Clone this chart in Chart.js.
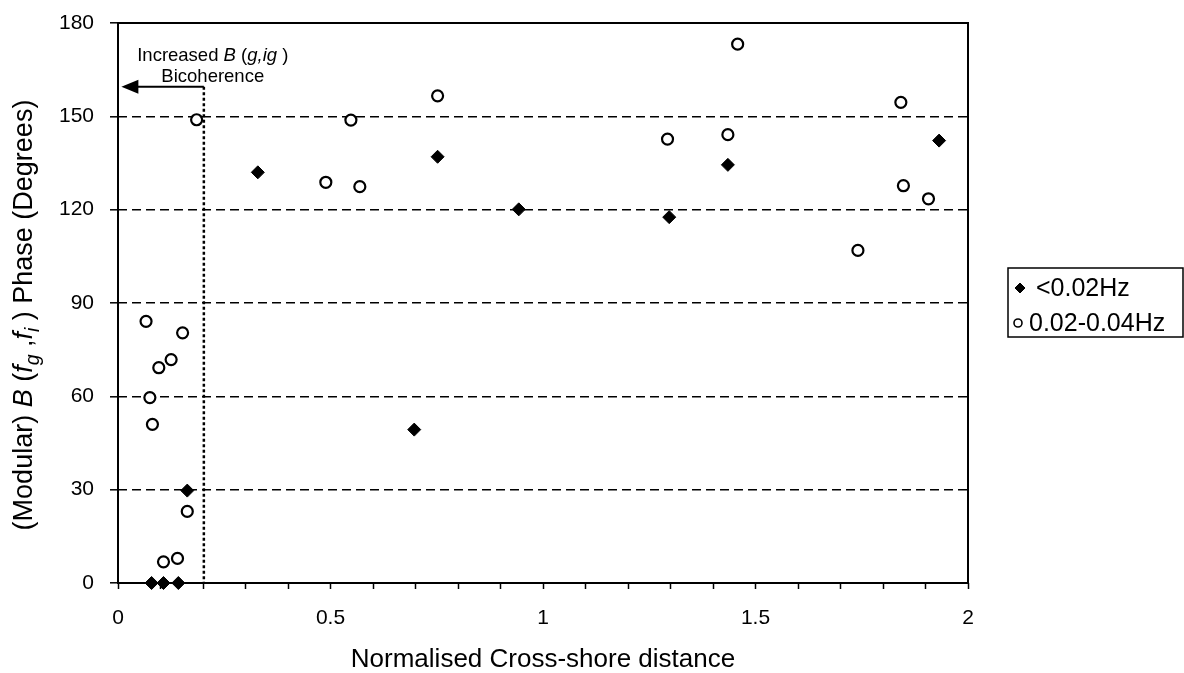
<!DOCTYPE html>
<html>
<head>
<meta charset="utf-8">
<title>Bispectral phase vs cross-shore distance</title>
<script src="https://cdn.jsdelivr.net/npm/chart.js@4.4.0/dist/chart.umd.min.js"></script>
<style>
  html, body { margin: 0; padding: 0; background: #fff; }
  #wrap { width: 1184px; height: 673px; }
</style>
</head>
<body>
<div id="wrap"><canvas id="phaseChart"></canvas></div>
<script>
// <0.02Hz (filled diamonds)
const lowX = [0.079, 0.107, 0.142, 0.163, 0.329, 0.697, 0.752, 0.943, 1.297, 1.435, 1.932];
const lowY = [0, 0, 0, 29.7, 132, 49.3, 137, 120.1, 117.6, 134.4, 142.2];

// 0.02-0.04Hz (open circles)
const midX = [0.066, 0.075, 0.081, 0.096, 0.107, 0.125, 0.140, 0.152, 0.163, 0.185,
              0.489, 0.548, 0.569, 0.752, 1.293, 1.435, 1.458, 1.741, 1.842, 1.848, 1.907];
const midY = [84.1, 59.6, 51.0, 69.2, 6.8, 71.8, 7.9, 80.4, 23.0, 148.9,
              128.8, 148.8, 127.4, 156.6, 142.7, 144.1, 173.2, 106.9, 154.5, 127.7, 123.5];

const seriesLabels = ['<0.02Hz', '0.02-0.04Hz'];
const xMajorTicks = [0, 0.5, 1, 1.5, 2];
const yTicks = [0, 30, 60, 90, 120, 150, 180];

// the "increased bicoherence" marker
const bicohX = 0.202;
const bicohY = 159.5;

const FONT = '"Liberation Sans", Arial, sans-serif';

function toPoints(xs, ys) {
  return xs.map((x, i) => ({ x: x, y: ys[i] }));
}

// draws text made of plain / italic / subscript pieces, centred on (x, y)
function drawRich(ctx, parts, x, y, size) {
  let total = 0;
  parts.forEach(p => {
    const s = p.sub ? size * 0.72 : size;
    ctx.font = (p.italic ? 'italic ' : '') + s + 'px ' + FONT;
    p.w = ctx.measureText(p.t).width;
    total += p.w;
  });
  let cx = x - total / 2;
  ctx.textAlign = 'left';
  ctx.textBaseline = 'alphabetic';
  parts.forEach(p => {
    const s = p.sub ? size * 0.72 : size;
    ctx.font = (p.italic ? 'italic ' : '') + s + 'px ' + FONT;
    ctx.fillText(p.t, cx, p.sub ? y + size * 0.25 : y);
    cx += p.w;
  });
}

const extras = {
  id: 'extras',
  beforeDatasetsDraw(chart) {
    const { ctx, chartArea: a, scales: { x, y } } = chart;
    ctx.save();
    ctx.strokeStyle = '#000';
    ctx.fillStyle = '#000';

    // plot frame
    ctx.lineWidth = 2;
    ctx.strokeRect(a.left, a.top, a.right - a.left, a.bottom - a.top);

    // dotted vertical line
    const px = x.getPixelForValue(bicohX);
    const py = y.getPixelForValue(bicohY);
    ctx.lineWidth = 2.5;
    ctx.setLineDash([3, 2.5]);
    ctx.beginPath();
    ctx.moveTo(px, py);
    ctx.lineTo(px, y.getPixelForValue(0));
    ctx.stroke();
    ctx.setLineDash([]);

    // arrow pointing to the shore
    const tip = x.getPixelForValue(0.008);
    ctx.lineWidth = 2;
    ctx.beginPath();
    ctx.moveTo(px, py);
    ctx.lineTo(tip + 14, py);
    ctx.stroke();
    ctx.beginPath();
    ctx.moveTo(tip, py);
    ctx.lineTo(tip + 17, py - 7);
    ctx.lineTo(tip + 17, py + 7);
    ctx.closePath();
    ctx.fill();

    // label
    const tx = x.getPixelForValue(0.223);
    drawRich(ctx, [
      { t: 'Increased ' }, { t: 'B', italic: true }, { t: ' (' },
      { t: 'g,ig', italic: true }, { t: ' )' }
    ], tx, py - 26, 18.5);
    drawRich(ctx, [{ t: 'Bicoherence' }], tx, py - 5, 18.5);
    ctx.restore();
  },
  afterDraw(chart) {
    const { ctx, chartArea: a } = chart;
    ctx.save();
    ctx.fillStyle = '#000';
    ctx.strokeStyle = '#000';

    // y axis title with italics and subscripts
    ctx.translate(12, 315);
    ctx.rotate(-Math.PI / 2);
    drawRich(ctx, [
      { t: '(Modular) ' }, { t: 'B', italic: true }, { t: ' (' },
      { t: 'f', italic: true }, { t: 'g', italic: true, sub: true }, { t: ' ,' },
      { t: 'f', italic: true }, { t: 'i', italic: true, sub: true }, { t: ' )' },
      { t: ' Phase (Degrees)' }
    ], 0, 20, 27);
    ctx.setTransform(1, 0, 0, 1, 0, 0);

    // legend box
    const lx = 1008, ly = 268, lw = 175, lh = 69;
    ctx.lineWidth = 1.5;
    ctx.strokeRect(lx, ly, lw, lh);
    const rows = [ly + 20, ly + 55];
    chart.data.datasets.forEach((ds, i) => {
      const mx = lx + (i === 0 ? 12 : 10);
      ctx.fillStyle = ds.backgroundColor;
      ctx.strokeStyle = ds.borderColor;
      ctx.lineWidth = i === 0 ? 1 : 1.6;
      ctx.beginPath();
      if (ds.pointStyle === 'rectRot') {
        ctx.moveTo(mx - 5, rows[i]);
        ctx.lineTo(mx, rows[i] - 5);
        ctx.lineTo(mx + 5, rows[i]);
        ctx.lineTo(mx, rows[i] + 5);
        ctx.closePath();
      } else {
        ctx.arc(mx, rows[i], 4, 0, Math.PI * 2);
      }
      ctx.fill();
      ctx.stroke();
      ctx.fillStyle = '#000';
      ctx.font = '25px ' + FONT;
      ctx.textAlign = 'left';
      ctx.textBaseline = 'middle';
      ctx.fillText(ds.label, lx + (i === 0 ? 28 : 21), rows[i] + 1);
    });
    ctx.restore();
  }
};

new Chart(document.getElementById('phaseChart'), {
  type: 'scatter',
  data: {
    datasets: [
      {
        label: seriesLabels[0],
        data: toPoints(lowX, lowY),
        pointStyle: 'rectRot',
        pointRadius: 6.5,
        backgroundColor: '#000',
        borderColor: '#000',
        borderWidth: 1,
        clip: false
      },
      {
        label: seriesLabels[1],
        data: toPoints(midX, midY),
        pointStyle: 'circle',
        pointRadius: 5.5,
        backgroundColor: '#fff',
        borderColor: '#000',
        borderWidth: 2.2,
        clip: false
      }
    ]
  },
  options: {
    responsive: true,
    maintainAspectRatio: false,
    animation: false,
    devicePixelRatio: 1,
    layout: { padding: { top: 23, right: 216, left: 0, bottom: 0 } },
    plugins: {
      legend: { display: false },
      tooltip: { enabled: false }
    },
    scales: {
      x: {
        type: 'linear',
        min: 0,
        max: 2,
        afterFit: s => { s.height = 90; s.paddingLeft = 0; s.paddingRight = 0; },
        ticks: {
          stepSize: 0.1,
          autoSkip: false,
          maxRotation: 0,
          padding: 17,
          color: '#000',
          font: { family: FONT, size: 21 },
          callback: v => {
            const m = xMajorTicks.find(t => Math.abs(t - v) < 1e-6);
            return m === undefined ? '' : String(m);
          }
        },
        grid: {
          drawOnChartArea: false,
          drawTicks: true,
          tickLength: 6,
          tickColor: '#000',
          tickWidth: 1.5
        },
        border: { display: false },
        title: {
          display: true,
          text: 'Normalised Cross-shore distance',
          color: '#000',
          font: { family: FONT, size: 26, lineHeight: 1 },
          padding: { top: 0, bottom: 0 }
        }
      },
      y: {
        min: 0,
        max: 180,
        afterFit: s => { s.width = 118; s.paddingTop = 0; s.paddingBottom = 0; },
        afterBuildTicks: s => { s.ticks = yTicks.map(v => ({ value: v })); },
        ticks: {
          padding: 16,
          color: '#000',
          font: { family: FONT, size: 21 }
        },
        grid: {
          color: c => (c.tick && (c.tick.value === 0 || c.tick.value === 180)) ? 'rgba(0,0,0,0)' : '#000',
          lineWidth: 1.6,
          tickLength: 8,
          tickColor: '#000',
          tickWidth: 1.5
        },
        border: { display: false, dash: [9, 5] }
      }
    }
  },
  plugins: [extras]
});
</script>
</body>
</html>
